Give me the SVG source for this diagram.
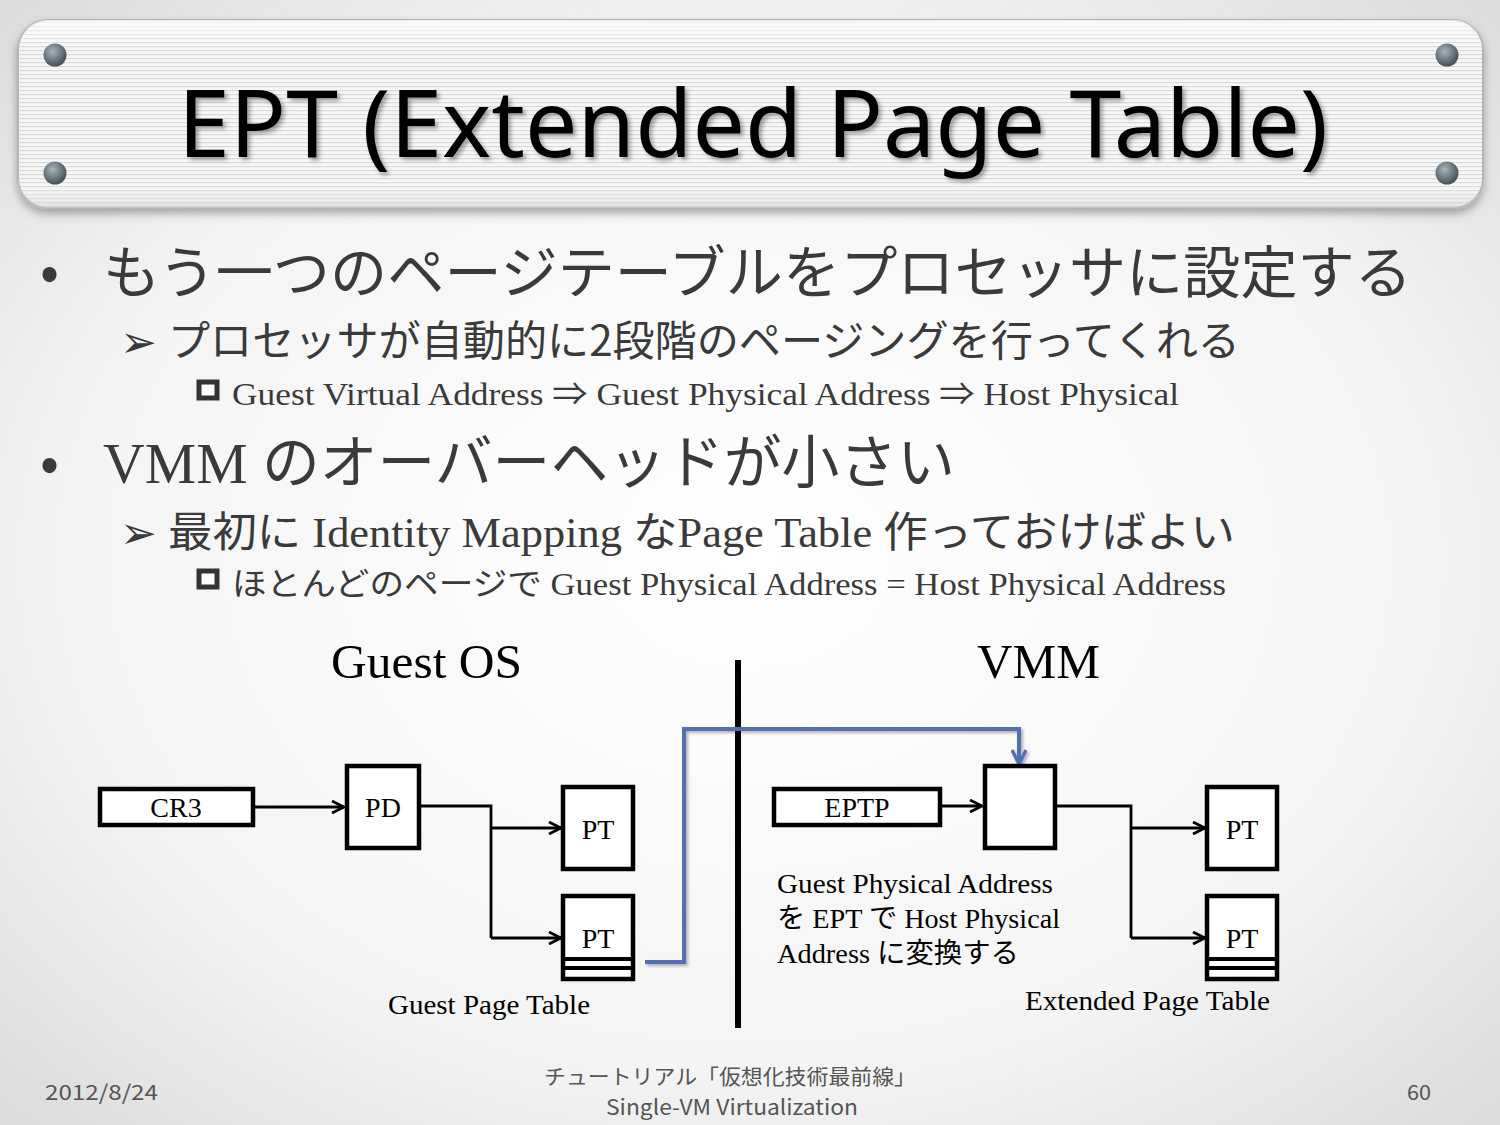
<svg xmlns="http://www.w3.org/2000/svg" width="1500" height="1125" viewBox="0 0 1500 1125">
<defs>
<radialGradient id="bg" cx="0.5" cy="0.5" r="0.75">
<stop offset="0" stop-color="#ffffff"/>
<stop offset="0.6" stop-color="#f4f4f4"/>
<stop offset="1" stop-color="#d6d6d6"/>
</radialGradient>
<pattern id="stripes" width="8" height="4" patternUnits="userSpaceOnUse">
<rect width="8" height="4" fill="#f7f7f7"/>
<rect y="2" width="8" height="1.2" fill="#d9d9d9"/>
</pattern>
<linearGradient id="bannerShade" x1="0" y1="0" x2="0" y2="1">
<stop offset="0" stop-color="#ffffff" stop-opacity="0.7"/>
<stop offset="0.15" stop-color="#ffffff" stop-opacity="0"/>
<stop offset="0.85" stop-color="#ffffff" stop-opacity="0"/>
<stop offset="1" stop-color="#cfcfcf" stop-opacity="0.6"/>
</linearGradient>
<radialGradient id="screw" cx="0.4" cy="0.35" r="0.7">
<stop offset="0" stop-color="#a9b3ba"/>
<stop offset="0.6" stop-color="#66737c"/>
<stop offset="1" stop-color="#3e4950"/>
</radialGradient>
<filter id="shadow" x="-5%" y="-10%" width="110%" height="130%">
<feDropShadow dx="0" dy="5" stdDeviation="4" flood-color="#000" flood-opacity="0.3"/>
</filter>
<filter id="tshadow" x="-5%" y="-10%" width="110%" height="130%">
<feDropShadow dx="3" dy="3" stdDeviation="2" flood-color="#000" flood-opacity="0.35"/>
</filter>
<filter id="lshadow" x="-5%" y="-10%" width="110%" height="130%">
<feDropShadow dx="2" dy="2" stdDeviation="1.5" flood-color="#000" flood-opacity="0.3"/>
</filter>
<marker id="arr" viewBox="0 0 14 14" refX="13" refY="7" markerWidth="14" markerHeight="14" markerUnits="userSpaceOnUse" orient="auto">
<path d="M1,1 L13,7 L1,13" fill="none" stroke="#000" stroke-width="2.8"/>
</marker>
<marker id="barr" viewBox="0 0 16 16" refX="15" refY="8" markerWidth="16" markerHeight="16" markerUnits="userSpaceOnUse" orient="auto">
<path d="M1,1 L15,8 L1,15" fill="none" stroke="#5470b0" stroke-width="3.5"/>
</marker>
</defs>
<style>
.jp{font-family:"Noto Sans CJK JP","Noto Sans",sans-serif;}
.se{font-family:"Liberation Serif","Noto Sans CJK JP",serif;}
.body{fill:#3a3a3a;}
.box{fill:#ffffff;stroke:#000;stroke-width:4.5;}
.conn{fill:none;stroke:#000;stroke-width:2.8;}
.lbl{font-family:"Liberation Serif","Noto Sans CJK JP",serif;font-size:28px;fill:#000;}
.foot{font-family:"Noto Sans CJK JP","Noto Sans",sans-serif;fill:#555;font-size:21px;}
.sq{fill:#fff;stroke:#333;stroke-width:5;}
.chev{font-family:"DejaVu Sans",sans-serif;font-size:44px;}
</style>
<rect width="1500" height="1125" fill="url(#bg)"/>

<g id="banner">
<rect x="18" y="20" width="1465" height="188" rx="30" fill="url(#stripes)" stroke="#b5b5b5" stroke-width="2" filter="url(#shadow)"/>
<rect x="18" y="20" width="1465" height="188" rx="30" fill="url(#bannerShade)"/>
<circle cx="55" cy="55" r="11.5" fill="url(#screw)"/>
<circle cx="55" cy="173" r="11.5" fill="url(#screw)"/>
<circle cx="1447" cy="55" r="11.5" fill="url(#screw)"/>
<circle cx="1447" cy="173" r="11.5" fill="url(#screw)"/>
<text x="178" y="157" font-family="'Noto Sans',sans-serif" font-size="94" fill="#000" textLength="1150" lengthAdjust="spacingAndGlyphs" filter="url(#tshadow)">EPT (Extended Page Table)</text>
</g>

<g id="bullets" class="body">
<text x="40" y="291" class="jp" font-size="56">•</text>
<text x="103" y="293" class="jp" font-size="57" textLength="1309" lengthAdjust="spacingAndGlyphs">もう一つのページテーブルをプロセッサに設定する</text>
<text x="120" y="357" class="chev">➢</text>
<text x="168" y="356" class="jp" font-size="42" textLength="1072" lengthAdjust="spacingAndGlyphs">プロセッサが自動的に2段階のページングを行ってくれる</text>
<rect x="199" y="382" width="18" height="16" class="sq"/>
<text x="232" y="405" class="se" font-size="32" textLength="947" lengthAdjust="spacingAndGlyphs">Guest Virtual Address ⇒ Guest Physical Address ⇒ Host Physical</text>
<text x="40" y="482" class="jp" font-size="56">•</text>
<text x="103" y="483" font-size="58" textLength="852" lengthAdjust="spacingAndGlyphs"><tspan class="se">VMM </tspan><tspan class="jp">のオーバーヘッドが小さい</tspan></text>
<text x="120" y="548" class="chev">➢</text>
<text x="168" y="547" font-size="42" textLength="1067" lengthAdjust="spacingAndGlyphs"><tspan class="jp">最初に</tspan><tspan class="se"> Identity Mapping </tspan><tspan class="jp">な</tspan><tspan class="se">Page Table </tspan><tspan class="jp">作っておけばよい</tspan></text>
<rect x="199" y="571" width="18" height="16" class="sq"/>
<text x="232" y="595" font-size="32" textLength="994" lengthAdjust="spacingAndGlyphs"><tspan class="jp">ほとんどのページで</tspan><tspan class="se"> Guest Physical Address = Host Physical Address</tspan></text>
</g>

<g id="headings">
<text x="331" y="678" class="se" font-size="48" fill="#000" textLength="191" lengthAdjust="spacingAndGlyphs">Guest OS</text>
<text x="977" y="678" class="se" font-size="48" fill="#000" textLength="123" lengthAdjust="spacingAndGlyphs">VMM</text>
</g>

<g id="divider">
<line x1="738" y1="660" x2="738" y2="1028" stroke="#000" stroke-width="6"/>
</g>

<g id="connectors">
<line x1="254" y1="807" x2="344" y2="807" class="conn" marker-end="url(#arr)"/>
<polyline points="419,806 491,806 491,938" class="conn"/>
<line x1="491" y1="828" x2="561" y2="828" class="conn" marker-end="url(#arr)"/>
<line x1="491" y1="938" x2="561" y2="938" class="conn" marker-end="url(#arr)"/>
<line x1="940" y1="806" x2="982" y2="806" class="conn" marker-end="url(#arr)"/>
<polyline points="1056,806 1131,806 1131,938" class="conn"/>
<line x1="1131" y1="828" x2="1205" y2="828" class="conn" marker-end="url(#arr)"/>
<line x1="1131" y1="938" x2="1205" y2="938" class="conn" marker-end="url(#arr)"/>
<polyline points="645,962 684,962 684,729 1019,729 1019,764" fill="none" stroke="#5470b0" stroke-width="4" marker-end="url(#barr)" filter="url(#lshadow)"/>
</g>

<g id="cr3">
<rect x="100" y="789" width="153" height="36" class="box"/>
<text x="176" y="817" class="lbl" text-anchor="middle">CR3</text>
</g>
<g id="pd">
<rect x="347" y="766" width="72" height="82" class="box"/>
<text x="383" y="817" class="lbl" text-anchor="middle">PD</text>
</g>
<g id="pt1">
<rect x="563" y="787" width="70" height="82" class="box"/>
<text x="598" y="839" class="lbl" text-anchor="middle">PT</text>
</g>
<g id="pt2">
<rect x="563" y="896" width="70" height="83" class="box"/>
<line x1="563" y1="959" x2="633" y2="959" stroke="#000" stroke-width="4"/>
<line x1="563" y1="968" x2="633" y2="968" stroke="#000" stroke-width="4"/>
<text x="598" y="948" class="lbl" text-anchor="middle">PT</text>
</g>
<g id="guest-label">
<text x="388" y="1014" class="lbl" textLength="202" lengthAdjust="spacingAndGlyphs">Guest Page Table</text>
</g>

<g id="eptp">
<rect x="774" y="789" width="166" height="36" class="box"/>
<text x="857" y="817" class="lbl" text-anchor="middle">EPTP</text>
</g>
<g id="ept-root">
<rect x="985" y="766" width="70" height="82" class="box"/>
</g>
<g id="pt3">
<rect x="1207" y="787" width="70" height="82" class="box"/>
<text x="1242" y="839" class="lbl" text-anchor="middle">PT</text>
</g>
<g id="pt4">
<rect x="1207" y="896" width="70" height="83" class="box"/>
<line x1="1207" y1="959" x2="1277" y2="959" stroke="#000" stroke-width="4"/>
<line x1="1207" y1="968" x2="1277" y2="968" stroke="#000" stroke-width="4"/>
<text x="1242" y="948" class="lbl" text-anchor="middle">PT</text>
</g>
<g id="ept-note">
<text x="777" y="893" class="lbl" textLength="276" lengthAdjust="spacingAndGlyphs">Guest Physical Address</text>
<text x="777" y="928" class="lbl" textLength="283" lengthAdjust="spacingAndGlyphs"><tspan class="jp">を</tspan> EPT <tspan class="jp">で</tspan> Host Physical</text>
<text x="777" y="963" class="lbl" textLength="242" lengthAdjust="spacingAndGlyphs">Address <tspan class="jp">に変換する</tspan></text>
</g>
<g id="ept-label">
<text x="1025" y="1010" class="lbl" textLength="245" lengthAdjust="spacingAndGlyphs">Extended Page Table</text>
</g>

<g id="footer">
<text x="45" y="1100" class="foot" textLength="113" lengthAdjust="spacingAndGlyphs">2012/8/24</text>
<text x="730" y="1084" class="foot" text-anchor="middle" textLength="372" lengthAdjust="spacingAndGlyphs">チュートリアル「仮想化技術最前線」</text>
<text x="732" y="1115" class="foot" text-anchor="middle" textLength="252" lengthAdjust="spacingAndGlyphs">Single-VM Virtualization</text>
<text x="1407" y="1100" class="foot" textLength="24" lengthAdjust="spacingAndGlyphs">60</text>
</g>
</svg>
